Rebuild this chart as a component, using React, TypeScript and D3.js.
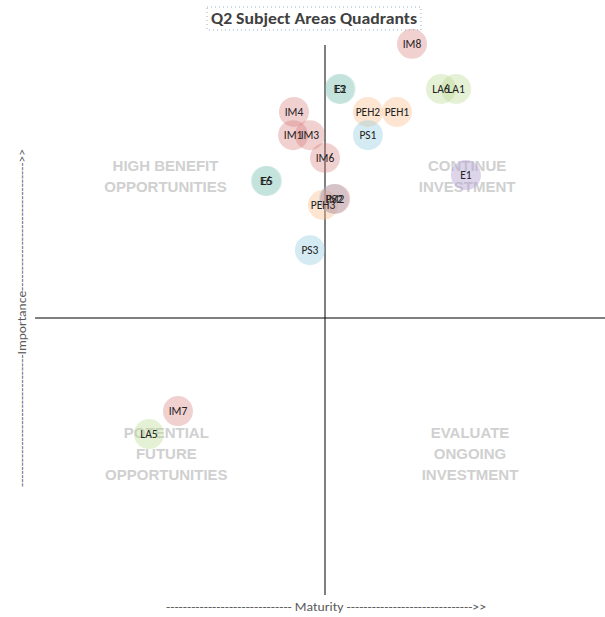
import React from 'react';
import * as d3 from 'd3';

// point labels, grouped by subject area
const labels = ['IM8', 'E3', 'E2', 'LA6', 'LA1', 'IM4', 'PEH2', 'PEH1', 'IM1', 'IM3', 'PS1', 'IM6', 'E1', 'E6', 'E5', 'PEH3', 'PS2', 'IM2', 'PS3', 'IM7', 'LA5'];
const maturity = [0.30, 0.05, 0.054, 0.40, 0.452, -0.107, 0.148, 0.248, -0.11, -0.052, 0.148, 0.0, 0.486, -0.204, -0.2, -0.007, 0.031, 0.035, -0.052, -0.507, -0.607];
const importance = [0.99, 0.827, 0.827, 0.827, 0.827, 0.744, 0.744, 0.744, 0.66, 0.66, 0.66, 0.578, 0.516, 0.495, 0.495, 0.408, 0.43, 0.43, 0.245, -0.336, -0.419];
const groups = ['IM', 'E', 'E', 'LA', 'LA', 'IM', 'PEH', 'PEH', 'IM', 'IM', 'PS', 'IM', 'E1', 'E', 'E', 'PEH', 'PS', 'IM', 'PS', 'IM', 'LA'];

const quadrantText = [
  { lines: ['HIGH BENEFIT', 'OPPORTUNITIES'], x: -0.55, y: 0.51 },
  { lines: ['CONTINUE', 'INVESTMENT'], x: 0.49, y: 0.51 },
  { lines: ['POTENTIAL', 'FUTURE', 'OPPORTUNITIES'], x: -0.547, y: -0.49 },
  { lines: ['EVALUATE', 'ONGOING', 'INVESTMENT'], x: 0.5, y: -0.49 },
];

const colors: Record<string, string> = {
  IM: 'rgba(214,120,120,0.35)',
  E: 'rgba(120,190,175,0.25)',
  LA: 'rgba(190,220,150,0.4)',
  PEH: 'rgba(250,190,140,0.4)',
  PS: 'rgba(150,205,225,0.4)',
  E1: 'rgba(180,165,210,0.45)',
};

const W = 605;
const H = 617;

export default function App() {
  const x = d3.scaleLinear().domain([-1, 1]).range([35, 615]);
  const y = d3.scaleLinear().domain([-1, 1]).range([595, 41]);
  const font = 'Calibri, Carlito, Lato, sans-serif';
  const capFont = '"Liberation Sans", Arial, sans-serif';

  return (
    <svg width={W} height={H} style={{ position: 'absolute', left: 0, top: 0, background: '#fff' }}>
      {/* quadrant captions */}
      {quadrantText.map((q, i) => (
        <text key={i} x={x(q.x)} y={y(q.y)} textAnchor="middle" fill="#d0d0d0"
          fontFamily={capFont} fontWeight="bold" fontSize={15}>
          {q.lines.map((l, j) => (
            <tspan key={j} x={x(q.x)} dy={j === 0 ? -((q.lines.length - 1) * 21) / 2 + 5 : 21}>{l}</tspan>
          ))}
        </text>
      ))}

      {/* axes */}
      <line x1={x(0)} x2={x(0)} y1={45} y2={595} stroke="#000" strokeWidth={1} />
      <line x1={35} x2={W} y1={y(0)} y2={y(0)} stroke="#000" strokeWidth={1} />

      {/* bubbles */}
      {labels.map((l, i) => (
        <circle key={l} cx={x(maturity[i])} cy={y(importance[i])} r={15} fill={colors[groups[i]]} />
      ))}
      {labels.map((l, i) => (
        <text key={l} x={x(maturity[i])} y={y(importance[i])} dy="0.35em" textAnchor="middle"
          fontFamily={font} fontSize={11.5} fill="#222">{l}</text>
      ))}

      {/* title */}
      <rect x={207} y={7} width={214} height={23} fill="none" stroke="#9aaec8" strokeWidth={1} strokeDasharray="1,3" />
      <text x={314} y={24} textAnchor="middle" fontFamily={font} fontWeight="bold" fontSize={16} fill="#404040"
        textLength={206} lengthAdjust="spacingAndGlyphs">
        Q2 Subject Areas Quadrants
      </text>

      {/* axis titles */}
      <text x={326} y={611} textAnchor="middle" fontFamily={font} fontSize={12.5} fill="#595959"
        textLength={320} lengthAdjust="spacingAndGlyphs">
        {'------------------------------ Maturity ------------------------------>>'}
      </text>
      <text transform={`translate(26,318) rotate(-90)`} textAnchor="middle" fontFamily={font} fontSize={12.5} fill="#595959"
        textLength={338} lengthAdjust="spacingAndGlyphs">
        {'--------------------------------Importance------------------------------->>'}
      </text>
    </svg>
  );
}
